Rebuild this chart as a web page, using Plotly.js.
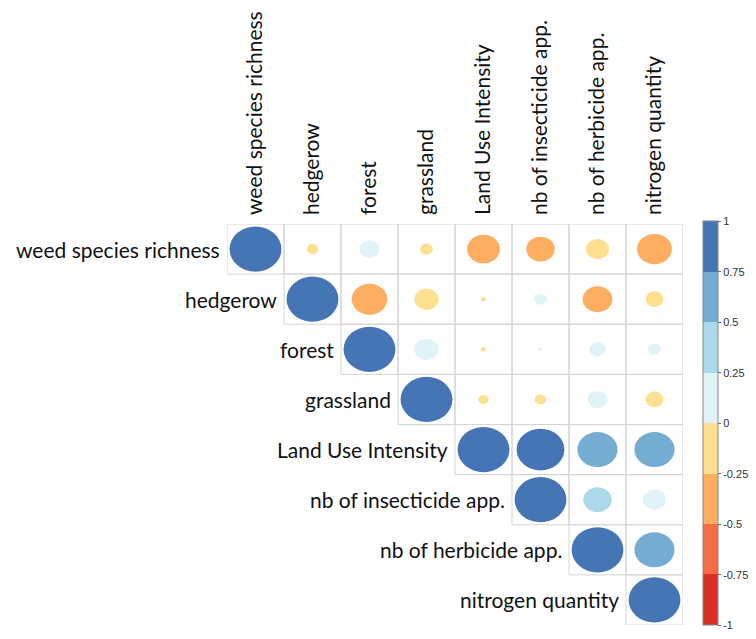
<!DOCTYPE html>
<html>
<head>
<meta charset="utf-8">
<script src="https://cdn.plot.ly/plotly-3.0.1.min.js"></script>
<style>html,body{margin:0;padding:0;background:#fff;}#chart{width:756px;height:639px;}</style>
</head>
<body>
<div id="chart"></div>
<script>
const variables = ["weed species richness","hedgerow","forest","grassland","Land Use Intensity","nb of insecticide app.","nb of herbicide app.","nitrogen quantity"];
// upper-triangle correlation matrix (row i, columns i..7)
const corrRows = [
  [1, -0.05, 0.15, -0.06, -0.40, -0.30, -0.20, -0.45],
  [1, -0.47, -0.22, -0.01, 0.06, -0.33, -0.12],
  [1, 0.22, -0.01, 0.005, 0.10, 0.06],
  [1, -0.04, -0.05, 0.15, -0.12],
  [1, 0.85, 0.60, 0.60],
  [1, 0.30, 0.20],
  [1, 0.60],
  [1]
];
const binEdges = [-1, -0.75, -0.5, -0.25, 0, 0.25, 0.5, 0.75, 1];
const binColors = ["#D73027","#F46D43","#FDAE61","#FEE090","#E0F3F8","#ABD9E9","#74ADD1","#4575B4"];
const tickVals = [-1,-0.75,-0.5,-0.25,0,0.25,0.5,0.75,1];
const tickText = ["-1","-0.75","-0.5","-0.25","0","0.25","0.5","0.75","1"];

function colorFor(v){
  for (let k = 0; k < binColors.length; k++){
    if (v <= binEdges[k+1]) return binColors[k];
  }
  return binColors[binColors.length-1];
}

const n = variables.length;
const shapes = [];
const xs = [], ys = [], cs = [], txt = [];
// cell borders
for (let i = 0; i < n; i++){
  for (let j = i; j < n; j++){
    shapes.push({type:"rect", xref:"x", yref:"y", x0:j+0.5, x1:j+1.5, y0:i+0.5, y1:i+1.5,
      line:{color:"#d4d4d4", width:1}, fillcolor:"rgba(0,0,0,0)", layer:"below"});
  }
}
// circles: area proportional to |r|
for (let i = 0; i < n; i++){
  for (let j = i; j < n; j++){
    const v = corrRows[i][j-i];
    const r = 0.455 * Math.sqrt(Math.abs(v));
    const cx = j+1, cy = i+1;
    shapes.push({type:"circle", xref:"x", yref:"y", x0:cx-r, x1:cx+r, y0:cy-r*0.99, y1:cy+r*0.99,
      line:{width:0}, fillcolor:colorFor(v), layer:"above"});
    xs.push(cx); ys.push(cy); cs.push(v); txt.push(variables[i]+" / "+variables[j]+": "+v);
  }
}
// discrete colorscale
const cscale = [];
for (let k = 0; k < binColors.length; k++){
  cscale.push([k/binColors.length, binColors[k]]);
  cscale.push([(k+1)/binColors.length, binColors[k]]);
}
const trace = {
  type:"scatter", mode:"markers", x:xs, y:ys, text:txt, hoverinfo:"text",
  marker:{size:1, opacity:0, color:cs, cmin:-1, cmax:1, colorscale:cscale, showscale:true,
    colorbar:{x:1.022, xanchor:"left", xref:"paper", y:0.503, yanchor:"middle", yref:"paper",
      lenmode:"pixels", len:424, thickness:15, outlinewidth:1, outlinecolor:"#888",
      tickvals:tickVals, ticktext:tickText, ticks:"outside", ticklen:3, tickcolor:"#666",
      tickfont:{family:"Liberation Sans, Arial, sans-serif", size:11, color:"#333"}}},
  showlegend:false
};
// row labels
const annotations = [];
for (let i = 0; i < n; i++){
  annotations.push({x:i+0.5, y:i+1, xref:"x", yref:"y", text:variables[i], showarrow:false,
    xanchor:"right", yanchor:"middle", xshift:-5,
    font:{family:"Lato, sans-serif", size:21, color:"#111"}});
}
const layout = {
  width:756, height:639,
  margin:{l:227, r:73, t:224, b:14, autoexpand:false},
  paper_bgcolor:"#fff", plot_bgcolor:"#fff",
  xaxis:{range:[0.5, n+0.5], side:"top", tickvals:variables.map((_,k)=>k+1), ticktext:variables,
    tickangle:-90, showgrid:false, zeroline:false, showline:false, ticks:"", ticklabelstandoff:8,
    tickfont:{family:"Lato, sans-serif", size:21, color:"#111"}, fixedrange:true, automargin:false},
  yaxis:{range:[n+0.5, 0.5], showticklabels:false, showgrid:false, zeroline:false, showline:false, ticks:"", fixedrange:true, automargin:false},
  shapes:shapes, annotations:annotations, showlegend:false
};
Plotly.newPlot("chart", [trace], layout, {displayModeBar:false, staticPlot:false});
</script>
</body>
</html>
